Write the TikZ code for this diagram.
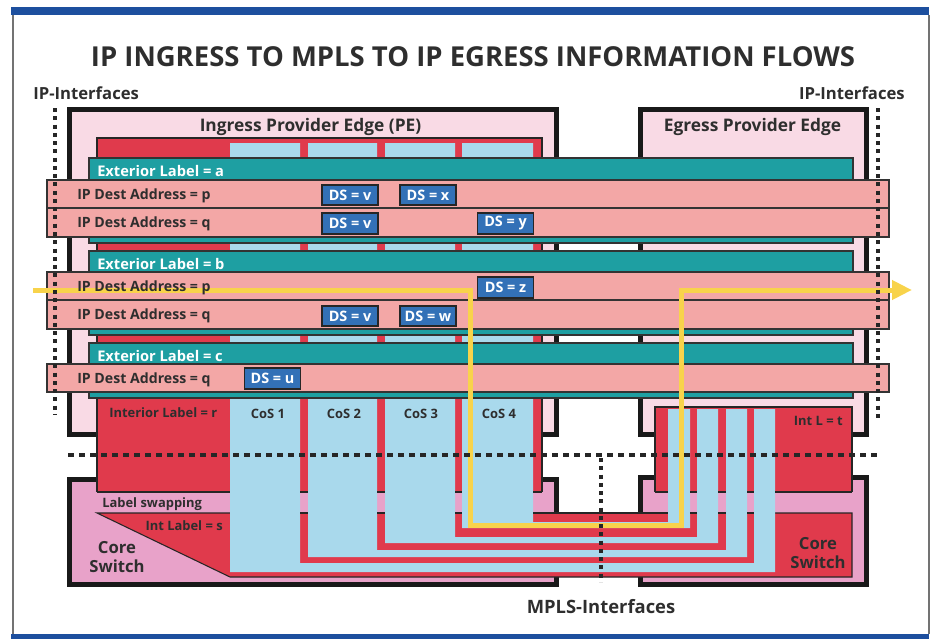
\documentclass[tikz,border=0pt]{standalone}
\usepackage{fontspec}
\setmainfont{Open Sans}
\usepackage{tikz}
\usetikzlibrary{arrows.meta}

\definecolor{bandblue}{HTML}{1D4F9E}
\definecolor{pepink}{HTML}{F9DAE5}
\definecolor{corepink}{HTML}{E8A2C9}
\definecolor{mplsred}{HTML}{E03A4C}
\definecolor{cosblue}{HTML}{A9D9EC}
\definecolor{extteal}{HTML}{1E9FA2}
\definecolor{ipsalmon}{HTML}{F3A7A6}
\definecolor{dsblue}{HTML}{3371B7}
\definecolor{txtgray}{HTML}{2E2E2E}
\definecolor{flowyellow}{HTML}{F8D34B}

\tikzset{
  >=Latex,
  pebox/.style={draw=black!90,line width=3.75pt,fill=pepink},
  corebox/.style={draw=black!90,line width=3.75pt,fill=corepink},
  edge/.style={draw=black!85,line width=0.8pt},
  extbar/.style={draw=black!80,line width=0.9pt,fill=extteal},
  ipbar/.style={draw=black!80,line width=1.1pt,fill=ipsalmon},
  dsbox/.style={draw=black!85,line width=1.4pt,fill=dsblue,text=white,inner sep=0pt,
    minimum width=42pt,minimum height=15.5pt,font=\bfseries\fontsize{10.8}{12}\selectfont},
  extlabel/.style={anchor=base west,inner sep=0pt,text=white,font=\bfseries\fontsize{11}{13}\selectfont},
  iplabel/.style={anchor=base west,inner sep=0pt,text=txtgray,font=\bfseries\fontsize{10.6}{12}\selectfont},
  smalllabel/.style={anchor=base,inner sep=0pt,text=txtgray,font=\bfseries\fontsize{9.7}{11}\selectfont},
  headlabel/.style={anchor=base west,inner sep=0pt,text=txtgray,font=\bfseries\fontsize{12.5}{14}\selectfont},
  boxlabel/.style={anchor=base,inner sep=0pt,text=txtgray,font=\bfseries\fontsize{13}{15}\selectfont},
  corelabel/.style={align=center,inner sep=0pt,text=txtgray,font=\bfseries\fontsize{12.5}{14.2}\selectfont},
  titletext/.style={anchor=base,inner sep=0pt,text=txtgray,font=\bfseries\fontsize{20.6}{24}\selectfont},
  flowline/.style={draw=flowyellow,line width=3.75pt,-{Triangle[length=15pt,width=14pt]}},
  hdash/.style={draw=black!85,line width=2.5pt,dash pattern=on 4.5pt off 3.75pt},
  vdots/.style={draw=black!85,line width=2.6pt,dash pattern=on 3pt off 3.2pt}
}

\begin{document}
\begin{tikzpicture}[x=0.75pt,y=-0.75pt]
    \useasboundingbox (0,0) rectangle (932,639);
    \fill[bandblue] (11,7) rectangle (929,15);
    \fill[bandblue] (11,634) rectangle (929,639);
    \draw[black!55,line width=0.8pt] (13,15) -- (13,634) (929,15) -- (929,634);
    \node[titletext] (title) at (473,66) {IP INGRESS TO MPLS TO IP EGRESS INFORMATION FLOWS};

    \draw[pebox] (69.5,109.5) rectangle (556.5,434.5);
    \draw[pebox] (640.5,109.5) rectangle (866.5,434.5);
    \draw[corebox] (69.5,479.5) rectangle (556.5,584.5);
    \draw[corebox] (640.5,477.5) rectangle (866.5,584.5);

    \fill[mplsred] (97,138) rectangle (542,492);
    \draw[edge] (97,492) -- (97,138) -- (542,138) -- (542,492);
    \fill[mplsred] (655,407) rectangle (852,492);
    \draw[edge] (655,492) -- (655,407) -- (852,407) -- (852,492);

    \fill[mplsred] (97,513) -- (230,577) -- (852,577) -- (852,513) -- (775,513) -- (775,572) -- (230,572) -- (230,513) -- cycle;
    \draw[edge] (230,513) -- (97,513) -- (230,577) -- (852,577) -- (852,513) -- (775,513);
    \foreach \la/\ra/\lb/\rb/\yi/\yo in {455/462/690/697/528/537,377/385/718/726/543/550,300/308/747/754/557/563}
        \fill[mplsred] (\la,513) -- (\ra,513) -- (\ra,\yi) -- (\lb,\yi) -- (\lb,513) -- (\rb,513) -- (\rb,\yo) -- (\la,\yo) -- cycle;
    \fill[mplsred] (533,513) rectangle (668,522);

    \foreach \la/\ra/\lb/\rb/\yi/\yo in {462/533/668/690/522/528,385/455/697/718/537/543,308/377/726/747/550/557,230/300/754/775/563/572}
        \fill[cosblue] (\la,143) -- (\ra,143) -- (\ra,\yi) -- (\lb,\yi) -- (\lb,409) -- (\rb,409) -- (\rb,\yo) -- (\la,\yo) -- cycle;

    \foreach \l/\r in {97/230,300/308,377/385,455/462,533/542,655/668,690/697,718/726,747/754,775/852}
        \draw[edge] (\l,492) -- (\r,492);
    \foreach \l/\r in {300/308,377/385,455/462,533/668,690/697,718/726,747/754}
        \draw[edge] (\l,513) -- (\r,513);

    \foreach \top/\bot in {158/243,251/335,343/398}
        \draw[extbar] (89,\top) rectangle (853,\bot);
    \foreach \top/\bot in {180/208,208/237,272/300,300/329,364/392}
        \draw[ipbar] (47,\top) rectangle (889,\bot);

    \coordinate (flowin) at (33,290);
    \coordinate (flowdown) at (470,290);
    \coordinate (flowcross) at (470,525);
    \coordinate (flowup) at (681,525);
    \coordinate (flowexit) at (681,290);
    \coordinate (flowout) at (912,290);
    \draw[flowline] (flowin) -- (flowdown) -- (flowcross) -- (flowup) -- (flowexit) -- (flowout);

    \foreach \top/\id in {158/a,251/b,343/c}
        \node[extlabel] (ext\id) at (97,\top+18) {Exterior Label = \id};
    \foreach \top/\adr/\id in {180/p/ap,208/q/aq,272/p/bp,300/q/bq,364/q/cq}
        \node[iplabel] (ip\id) at (77,\top+19.5) {IP Dest Address = \adr};
    \foreach \x/\y/\v/\id in {350/195/v/a1,428/195/x/a2,350/223.5/v/a3,505.5/223.5/y/a4,505.5/287.5/z/b1,350/316/v/b2,428/316/w/b3,272.5/378.5/u/c1}
        \node[dsbox] (ds\id) at (\x,\y) {DS = \v};

    \node[headlabel] (ipifl) at (33,99) {IP-Interfaces};
    \node[headlabel,anchor=base east] (ipifr) at (905,99) {IP-Interfaces};
    \node[boxlabel] (ingress) at (310.5,131.5) {Ingress Provider Edge (PE)};
    \node[boxlabel] (egress) at (752.5,131.5) {Egress Provider Edge};
    \node[smalllabel,anchor=base west] (intr) at (109,417) {Interior Label = r};
    \foreach \x/\n in {268/1,344/2,421/3,499/4}
        \node[smalllabel] (cos\n) at (\x,418) {CoS \n};
    \node[smalllabel,anchor=base east] (intt) at (843,425) {Int L = t};
    \node[smalllabel,anchor=base west] (swap) at (102,507) {Label swapping};
    \node[smalllabel,anchor=base east] (ints) at (223,530) {Int Label = s};
    \node[corelabel] (corel) at (117,557) {Core\\Switch};
    \node[corelabel] (corer) at (818,553) {Core\\Switch};
    \node[boxlabel,font=\bfseries\fontsize{13.8}{16}\selectfont] (mpls) at (601,613) {MPLS-Interfaces};

    \draw[hdash] (68,455) -- (880,455);
    \draw[vdots] (55,108) -- (55,415);
    \draw[vdots] (878,108) -- (878,418);
    \draw[vdots] (601,458) -- (601,582);
\end{tikzpicture}
\end{document}
